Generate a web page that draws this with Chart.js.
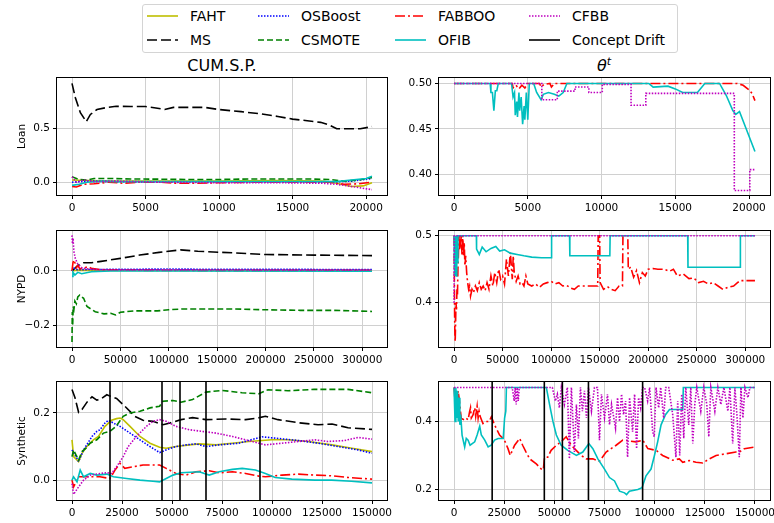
<!DOCTYPE html>
<html>
<head>
<meta charset="utf-8">
<script src="https://cdn.jsdelivr.net/npm/chart.js@4"></script>
<style>
body { margin: 0; width: 774px; height: 523px; overflow: hidden; background: #fff; position: relative; font-family: "DejaVu Sans", sans-serif; }
canvas { position: absolute; }
.title { position: absolute; font-size: 16px; line-height: 19px; color: #000; transform: translateX(-50%); white-space: nowrap; }
.title sup { font-size: 11px; line-height: 0; }
#legend { position: absolute; left: 142px; top: 4px; width: 536px; height: 49px; border: 1px solid #d4d4d4; border-radius: 3px; box-sizing: border-box; background: #fff; }
.item { position: absolute; height: 18px; display: flex; align-items: center; font-size: 14px; white-space: nowrap; color: #000; }
.item svg { margin-right: 12px; }
</style>
</head>
<body>
<div class="title" style="left:222px;top:56px">CUM.S.P.</div>
<div class="title" style="left:604px;top:56px"><i>θ</i><sup><i>t</i></sup></div>
<div id="legend"></div>

<script>
// ---- tick values ----
const loanXTicks = [0, 5000, 10000, 15000, 20000];
const nypdXTicks = [0, 50000, 100000, 150000, 200000, 250000, 300000];
const synXTicks = [0, 25000, 50000, 75000, 100000, 125000, 150000];

// concept drift positions (Synthetic)
const driftX = [19000, 45000, 54000, 67000, 94000];

// ---- Loan, CUM.S.P. ----
const loanCumFAHT = [[0,0.02],[1000,0.015],[3000,0.01],[6000,0.01],[10000,0.01],[14000,0.015],[17000,0.01],[18000,-0.01],[19000,-0.04],[19800,-0.035],[20400,-0.005]];
const loanCumMS = [[0,0.925],[230,0.79],[570,0.65],[970,0.566],[1250,0.634],[1700,0.68],[2400,0.70],[3000,0.71],[4000,0.708],[5000,0.708],[5700,0.695],[6300,0.68],[6900,0.70],[8000,0.70],[9000,0.70],[10000,0.68],[11500,0.66],[12800,0.64],[14000,0.615],[15000,0.59],[16000,0.575],[16900,0.56],[17500,0.535],[18000,0.50],[19000,0.50],[19600,0.50],[20400,0.52]];
const loanCumOSBoost = [[0,0.0],[500,0.005],[1500,0.01],[3000,0.005],[6000,0.0],[10000,0.0],[14000,0.002],[17500,0.0],[19000,0.01],[20400,0.035]];
const loanCumCSMOTE = [[0,0.05],[500,0.025],[1000,0.02],[1500,0.035],[2500,0.035],[4000,0.03],[6000,0.028],[8000,0.025],[10000,0.025],[12000,0.03],[14000,0.03],[16000,0.03],[17500,0.025],[18500,0.01],[19500,0.02],[20400,0.045]];
const loanCumFABBOO = [[0,-0.04],[300,-0.045],[800,-0.02],[1500,-0.015],[2500,0.0],[3500,-0.01],[4500,0.0],[6000,0.0],[7000,-0.01],[8500,-0.01],[10000,-0.005],[13000,0.0],[16000,0.0],[17500,0.0],[18500,-0.02],[19500,-0.015],[20400,0.0]];
const loanCumOFIB = [[0,-0.03],[500,-0.02],[1000,0.0],[2000,0.01],[3000,0.005],[5000,0.005],[8000,0.005],[12000,0.005],[16000,0.005],[18000,0.005],[19000,0.02],[20000,0.035],[20400,0.055]];
const loanCumCFBB = [[0,0.05],[300,0.0],[800,0.02],[1500,0.005],[3000,0.01],[6000,0.0],[10000,-0.005],[14000,-0.005],[17000,-0.01],[18000,-0.02],[19000,-0.04],[20400,-0.07]];

// ---- Loan, theta ----
const loanThFABBOO = [[0,0.5],[3950,0.5],[4000,0.495],[4200,0.498],[4400,0.494],[4600,0.498],[4800,0.495],[5000,0.5],[5800,0.5],[5900,0.496],[6100,0.499],[6500,0.5],[6600,0.496],[6800,0.5],[19200,0.5],[19600,0.498],[20000,0.493],[20200,0.489],[20400,0.481]];
const loanThOFIB = [[0,0.5],[2450,0.5],[2500,0.49],[2600,0.49],[2700,0.47],[2800,0.492],[2900,0.492],[3000,0.5],[3900,0.5],[4000,0.485],[4100,0.49],[4150,0.465],[4250,0.48],[4300,0.463],[4400,0.49],[4450,0.47],[4550,0.485],[4650,0.455],[4750,0.475],[4800,0.46],[4900,0.49],[5000,0.46],[5100,0.5],[5400,0.5],[5600,0.49],[5900,0.482],[6050,0.488],[6400,0.49],[6800,0.488],[7100,0.486],[7400,0.49],[7650,0.5],[13200,0.5],[13500,0.496],[14500,0.497],[15000,0.494],[15500,0.49],[16500,0.49],[17000,0.5],[18000,0.5],[18450,0.487],[18900,0.47],[19100,0.466],[19350,0.469],[20400,0.425]];
const loanThCFBB = [[0,0.5],[5950,0.5],[5950,0.482],[7000,0.482],[7000,0.4915],[8200,0.4915],[8200,0.496],[9140,0.496],[9140,0.49],[10050,0.49],[10050,0.499],[12000,0.499],[12000,0.476],[13000,0.476],[13000,0.489],[19000,0.489],[19000,0.382],[20050,0.382],[20050,0.405],[20400,0.405]];

// ---- NYPD, CUM.S.P. ----
const nypdCumFAHT = [[0,0.0],[5000,0.003],[30000,0.002],[310000,0.002]];
const nypdCumMS = [[0,0.0],[3000,0.01],[6000,0.02],[12000,0.03],[20000,0.03],[30000,0.035],[50000,0.046],[70000,0.058],[90000,0.068],[112000,0.077],[130000,0.072],[167000,0.066],[200000,0.06],[250000,0.058],[310000,0.056]];
const nypdCumOSBoost = [[0,0.0],[2000,0.01],[5000,0.005],[15000,0.005],[50000,0.006],[100000,0.007],[150000,0.006],[200000,0.006],[310000,0.005]];
const nypdCumCSMOTE = [[0,-0.26],[300,-0.15],[700,-0.2],[1200,-0.13],[2000,-0.14],[3000,-0.11],[4500,-0.12],[6000,-0.095],[8000,-0.088],[10000,-0.095],[12000,-0.1],[15500,-0.13],[20000,-0.14],[24000,-0.149],[33000,-0.157],[40000,-0.155],[45000,-0.161],[50000,-0.151],[64000,-0.146],[88000,-0.146],[100000,-0.142],[113600,-0.139],[132000,-0.139],[167000,-0.139],[201000,-0.142],[236000,-0.144],[270000,-0.144],[310000,-0.148]];
const nypdCumFABBOO = [[0,0.0],[1000,0.03],[2000,0.04],[3000,0.03],[4500,0.012],[6000,0.02],[8000,0.008],[12000,0.01],[16000,0.015],[20000,0.01],[28000,0.005],[40000,0.003],[80000,0.002],[150000,0.001],[310000,0.001]];
const nypdCumOFIB = [[0,-0.02],[1000,-0.005],[3000,-0.015],[6000,-0.005],[10000,-0.01],[20000,-0.003],[40000,0.0],[100000,0.0],[310000,-0.001]];
const nypdCumCFBB = [[0,0.13],[500,0.10],[1000,0.12],[2000,0.07],[3500,0.045],[6000,0.025],[10000,0.012],[15000,0.008],[25000,0.005],[50000,0.004],[100000,0.004],[200000,0.003],[310000,0.003]];

// ---- NYPD, theta ----
const nypdThFABBOO = [[0,0.5],[300,0.44],[600,0.38],[900,0.35],[1200,0.342],[1600,0.37],[2000,0.4],[2500,0.39],[3000,0.42],[3500,0.41],[4000,0.45],[4500,0.47],[5000,0.5],[5500,0.48],[6000,0.5],[6800,0.49],[7500,0.5],[8200,0.47],[9000,0.5],[9800,0.47],[10500,0.49],[11200,0.455],[12000,0.47],[13000,0.445],[14000,0.43],[15000,0.42],[16000,0.425],[17000,0.41],[18500,0.42],[20000,0.415],[22000,0.425],[24000,0.418],[26000,0.43],[28000,0.42],[30000,0.425],[32000,0.418],[34000,0.43],[36000,0.42],[38000,0.44],[40000,0.425],[42000,0.445],[44000,0.43],[46000,0.45],[48000,0.435],[50000,0.44],[52000,0.428],[54000,0.465],[56000,0.44],[58000,0.475],[60000,0.435],[61000,0.47],[62000,0.445],[64000,0.432],[66000,0.44],[68000,0.428],[70000,0.43],[72000,0.425],[74000,0.44],[76000,0.428],[80000,0.425],[84000,0.428],[88000,0.423],[92000,0.428],[96000,0.43],[100000,0.432],[104000,0.428],[108000,0.43],[112000,0.425],[116000,0.426],[120000,0.422],[124000,0.42],[128000,0.425],[135000,0.425],[148000,0.425],[148500,0.5],[150000,0.5],[150500,0.43],[154000,0.42],[158000,0.424],[162000,0.42],[166000,0.418],[170000,0.425],[173500,0.425],[174000,0.5],[179000,0.5],[179500,0.45],[182000,0.453],[185000,0.438],[188000,0.448],[191000,0.43],[194000,0.445],[197000,0.44],[200000,0.45],[205000,0.451],[210000,0.45],[216000,0.45],[222000,0.447],[226000,0.45],[230000,0.44],[236000,0.443],[242000,0.436],[247000,0.437],[252000,0.43],[257000,0.432],[262000,0.428],[267000,0.43],[272000,0.425],[277000,0.42],[282000,0.423],[288000,0.425],[292000,0.43],[295000,0.433],[310000,0.433]];
const nypdThOFIB = [[0,0.5],[500,0.44],[800,0.5],[1200,0.45],[1600,0.5],[2200,0.44],[2800,0.5],[3500,0.46],[4000,0.5],[23000,0.5],[23200,0.48],[26000,0.472],[29000,0.483],[33000,0.476],[38000,0.481],[43000,0.484],[47000,0.477],[52000,0.479],[58000,0.474],[65000,0.472],[72000,0.47],[80000,0.468],[90000,0.467],[100000,0.467],[100500,0.5],[119000,0.5],[119300,0.47],[160500,0.47],[160800,0.5],[240700,0.5],[241000,0.453],[294700,0.453],[295000,0.5],[310000,0.5]];
const nypdThCFBB = [[0,0.4],[300,0.5],[310000,0.5]];

// ---- Synthetic, CUM.S.P. ----
const synCumFAHT = [[0,0.12],[800,0.07],[3300,0.055],[5000,0.08],[7400,0.1],[10700,0.12],[13200,0.13],[16500,0.16],[19800,0.178],[22300,0.183],[24000,0.185],[25600,0.18],[29000,0.16],[34000,0.13],[39000,0.11],[43800,0.098],[47100,0.095],[52000,0.1],[58700,0.105],[63600,0.108],[72000,0.105],[80000,0.11],[88400,0.115],[100000,0.12],[108000,0.12],[118000,0.115],[130000,0.105],[140000,0.095],[150000,0.085]];
const synCumMS = [[0,0.27],[1500,0.245],[3300,0.202],[5000,0.21],[7500,0.232],[10000,0.248],[12400,0.238],[14500,0.242],[17400,0.254],[19000,0.25],[22300,0.243],[26400,0.22],[31400,0.19],[35500,0.178],[40500,0.175],[45500,0.165],[49000,0.17],[54500,0.18],[60300,0.186],[67000,0.18],[77000,0.182],[86800,0.18],[93000,0.185],[96700,0.19],[103000,0.18],[113000,0.171],[123000,0.165],[130000,0.167],[138000,0.156],[150000,0.151]];
const synCumOSBoost = [[0,0.09],[2500,0.065],[3300,0.055],[5800,0.09],[10000,0.13],[12400,0.145],[14000,0.15],[16500,0.17],[18200,0.178],[20700,0.17],[24000,0.16],[29000,0.14],[34000,0.12],[39000,0.1],[43800,0.082],[47100,0.09],[52000,0.1],[57000,0.105],[62000,0.108],[67000,0.1],[73500,0.105],[83500,0.11],[95000,0.129],[101600,0.125],[113000,0.118],[123000,0.11],[133000,0.1],[143000,0.09],[150000,0.08]];
const synCumCSMOTE = [[0,0.07],[800,0.09],[2000,0.075],[3300,0.06],[5000,0.085],[7000,0.095],[9000,0.11],[12400,0.12],[15700,0.14],[19000,0.145],[22000,0.16],[25600,0.19],[29000,0.2],[34000,0.205],[39000,0.215],[43800,0.22],[45500,0.235],[50500,0.237],[54500,0.232],[60300,0.24],[67000,0.262],[75000,0.267],[85000,0.26],[93400,0.257],[98000,0.269],[108000,0.266],[121000,0.27],[138000,0.27],[150000,0.26]];
const synCumFABBOO = [[0,0.0],[800,-0.02],[3300,0.01],[9100,0.01],[14000,0.01],[19000,0.005],[21500,0.03],[24000,0.05],[26400,0.035],[30600,0.04],[35500,0.045],[43800,0.045],[47100,0.035],[52000,0.02],[57000,0.015],[62000,0.025],[68600,0.028],[73600,0.022],[80200,0.025],[86800,0.02],[93400,0.012],[96700,0.01],[105000,0.015],[113200,0.018],[121500,0.015],[129800,0.013],[138000,0.008],[150000,0.003]];
const synCumOFIB = [[0,0.0],[800,0.01],[2500,-0.005],[4100,0.03],[5800,0.01],[9100,0.02],[12400,0.015],[17400,0.018],[20700,0.01],[27300,0.005],[34000,0.0],[40500,-0.003],[43800,-0.005],[47100,0.005],[50500,0.015],[54500,0.022],[63600,0.025],[68600,0.015],[73600,0.025],[80200,0.032],[85100,0.035],[91700,0.03],[96700,0.02],[101600,0.008],[109900,0.003],[121500,0.0],[129800,0.0],[139700,-0.003],[150000,-0.008]];
const synCumCFBB = [[0,-0.01],[800,-0.042],[3300,-0.02],[5800,0.0],[9100,0.015],[14000,0.02],[17400,0.022],[19800,0.02],[22300,0.04],[25600,0.07],[28100,0.1],[32200,0.13],[37200,0.16],[40500,0.175],[43800,0.18],[47100,0.175],[52000,0.16],[58700,0.15],[65300,0.145],[72000,0.14],[80200,0.13],[86800,0.12],[93400,0.11],[96700,0.105],[105000,0.11],[113200,0.115],[121500,0.12],[128000,0.115],[136300,0.118],[143000,0.127],[150000,0.122]];

// ---- Synthetic, theta ----
const synThFABBOO = [[0,0.5],[500,0.46],[1000,0.49],[1500,0.45],[2000,0.49],[2500,0.47],[3000,0.44],[3600,0.409],[5000,0.405],[6000,0.41],[7000,0.405],[7800,0.43],[8200,0.44],[8600,0.41],[9500,0.42],[10300,0.44],[10800,0.415],[11500,0.445],[12000,0.41],[12500,0.43],[13000,0.415],[14400,0.394],[16000,0.4],[17500,0.4],[18600,0.414],[20200,0.39],[22700,0.36],[24400,0.35],[25500,0.34],[26900,0.32],[28000,0.3],[30200,0.33],[32700,0.35],[34200,0.33],[35900,0.31],[37700,0.29],[41000,0.275],[43500,0.26],[44500,0.258],[45100,0.294],[46700,0.295],[48400,0.315],[51000,0.33],[53400,0.34],[55900,0.355],[58400,0.33],[60900,0.315],[63400,0.3],[65900,0.29],[69200,0.29],[72500,0.283],[75800,0.31],[78300,0.32],[80800,0.33],[84100,0.345],[90700,0.34],[94100,0.345],[96600,0.32],[100700,0.315],[104000,0.3],[109000,0.286],[112300,0.29],[114000,0.28],[117300,0.285],[120600,0.28],[124000,0.278],[127300,0.29],[130600,0.3],[135600,0.305],[140500,0.31],[142200,0.31],[144700,0.32],[150000,0.325]];
const synThOFIB = [[0,0.5],[500,0.4],[900,0.5],[1300,0.41],[1700,0.49],[2100,0.4],[2500,0.47],[2900,0.39],[3300,0.42],[4000,0.36],[5300,0.325],[6100,0.35],[7000,0.345],[8000,0.33],[10300,0.34],[11500,0.36],[12800,0.386],[13600,0.36],[15300,0.345],[17000,0.325],[18500,0.33],[20200,0.345],[22000,0.35],[24500,0.35],[25200,0.41],[25800,0.43],[26100,0.5],[46000,0.5],[47600,0.45],[49300,0.4],[51000,0.36],[53400,0.33],[56700,0.315],[61000,0.3],[64200,0.31],[67200,0.335],[69200,0.32],[71700,0.29],[75000,0.26],[77500,0.235],[80000,0.225],[82500,0.195],[85000,0.19],[86000,0.185],[87400,0.195],[91600,0.2],[93700,0.205],[95700,0.24],[98200,0.26],[99900,0.3],[101500,0.34],[103200,0.39],[105400,0.42],[107400,0.435],[114000,0.435],[114300,0.5],[150000,0.5]];
const synThCFBB = [[0,0.5],[29000,0.5],[30000,0.46],[30500,0.5],[31000,0.45],[31500,0.5],[32000,0.46],[32500,0.5],[49000,0.5],[50500,0.46],[51500,0.48],[52500,0.44],[53500,0.5],[55000,0.45],[56500,0.5],[57500,0.29],[58500,0.5],[60000,0.31],[61000,0.45],[62000,0.35],[63000,0.5],[64000,0.43],[65000,0.49],[66000,0.41],[67000,0.5],[68500,0.43],[70000,0.5],[71500,0.5],[72500,0.345],[73500,0.48],[75000,0.41],[76500,0.48],[77500,0.39],[78500,0.45],[80500,0.38],[81500,0.47],[82500,0.4],[83500,0.48],[84500,0.42],[85500,0.46],[86500,0.295],[87500,0.47],[89000,0.37],[90000,0.48],[91000,0.32],[92000,0.47],[93000,0.44],[94000,0.5],[95000,0.5],[96500,0.46],[97500,0.5],[99000,0.37],[99800,0.355],[100700,0.5],[102000,0.44],[103000,0.5],[104500,0.41],[105500,0.5],[107000,0.5],[109000,0.42],[110600,0.295],[111500,0.46],[112500,0.3],[113500,0.48],[114500,0.35],[115500,0.5],[117000,0.39],[118000,0.5],[119000,0.335],[120000,0.45],[121000,0.5],[123000,0.43],[124500,0.5],[126000,0.45],[127000,0.355],[128000,0.5],[130000,0.43],[131500,0.5],[133000,0.45],[134500,0.5],[136500,0.43],[137500,0.5],[138900,0.335],[140000,0.5],[141000,0.42],[142200,0.295],[143000,0.5],[144000,0.41],[145000,0.5],[146500,0.47],[147500,0.5],[150000,0.5]];

// ---- styles (matplotlib-like) ----
const styles = {
    FAHT:    { color: "#bfbf00", dash: [] },
    MS:      { color: "#000000", dash: [10, 4] },
    OSBoost: { color: "#0000ff", dash: [1.5, 1.5] },
    CSMOTE:  { color: "#008000", dash: [6, 3] },
    FABBOO:  { color: "#ff0000", dash: [10, 3, 2, 3] },
    OFIB:    { color: "#00bfbf", dash: [] },
    CFBB:    { color: "#bf00bf", dash: [1.5, 1.5] },
    "Concept Drift": { color: "#000000", dash: [] }
};

const cols = [[57, 387], [439, 770]];
const rows = [[78, 195], [231, 347], [382, 500]];

const panels = [
    { col: 0, row: 0, xMin: -1020, xMax: 21420, yMin: -0.12, yMax: 0.975, xTicks: loanXTicks, yTicks: [0, 0.5], dec: 1, yTitle: "Loan",
      series: { FAHT: loanCumFAHT, MS: loanCumMS, OSBoost: loanCumOSBoost, CSMOTE: loanCumCSMOTE, FABBOO: loanCumFABBOO, OFIB: loanCumOFIB, CFBB: loanCumCFBB } },
    { col: 1, row: 0, xMin: -1020, xMax: 21420, yMin: 0.377, yMax: 0.506, xTicks: loanXTicks, yTicks: [0.40, 0.45, 0.50], dec: 2,
      series: { FABBOO: loanThFABBOO, OFIB: loanThOFIB, CFBB: loanThCFBB } },
    { col: 0, row: 1, xMin: -15500, xMax: 325500, yMin: -0.278, yMax: 0.146, xTicks: nypdXTicks, yTicks: [-0.2, 0.0], dec: 1, yTitle: "NYPD",
      series: { FAHT: nypdCumFAHT, MS: nypdCumMS, OSBoost: nypdCumOSBoost, CSMOTE: nypdCumCSMOTE, FABBOO: nypdCumFABBOO, OFIB: nypdCumOFIB, CFBB: nypdCumCFBB } },
    { col: 1, row: 1, xMin: -15500, xMax: 325500, yMin: 0.334, yMax: 0.507, xTicks: nypdXTicks, yTicks: [0.4, 0.5], dec: 1,
      series: { FABBOO: nypdThFABBOO, OFIB: nypdThOFIB, CFBB: nypdThCFBB } },
    { col: 0, row: 2, xMin: -7500, xMax: 157500, yMin: -0.059, yMax: 0.292, xTicks: synXTicks, yTicks: [0.0, 0.2], dec: 1, yTitle: "Synthetic", drift: true,
      series: { FAHT: synCumFAHT, MS: synCumMS, OSBoost: synCumOSBoost, CSMOTE: synCumCSMOTE, FABBOO: synCumFABBOO, OFIB: synCumOFIB, CFBB: synCumCFBB } },
    { col: 1, row: 2, xMin: -7500, xMax: 157500, yMin: 0.169, yMax: 0.516, xTicks: synXTicks, yTicks: [0.2, 0.4], dec: 1, drift: true,
      series: { FABBOO: synThFABBOO, OFIB: synThOFIB, CFBB: synThCFBB } }
];

const tickFont = { family: "'DejaVu Sans', sans-serif", size: 10.5 };

// black box round the plot area, like matplotlib spines
const frame = {
    id: "frame",
    afterDatasetsDraw(chart) {
        const { ctx, chartArea: a } = chart;
        ctx.save();
        ctx.strokeStyle = "#000";
        ctx.lineWidth = 1;
        ctx.setLineDash([]);
        ctx.strokeRect(a.left - 0.5, a.top - 0.5, a.right - a.left + 1, a.bottom - a.top + 1);
        ctx.restore();
    }
};

function pts(arr) {
    return arr.map(([x, y]) => ({ x, y }));
}

function driftPts(lo, hi) {
    return driftX.flatMap(x => [{ x, y: lo }, { x, y: hi }, { x, y: null }]);
}

function fmtNum(v, dec) {
    return v.toFixed(dec).replace("-", "\u2212");
}

function drawPanel(p) {
    const [x0, x1] = cols[p.col];
    const [y0, y1] = rows[p.row];
    const padL = p.col === 0 ? 12 : 0;
    const yW = 45, padT = 14, padR = 10, xH = 24;
    const left = x0 - yW - padL;
    const top = y0 - padT;
    const cv = document.createElement("canvas");
    cv.width = x1 + padR - left;
    cv.height = padT + (y1 - y0) + xH;
    cv.style.left = left + "px";
    cv.style.top = top + "px";
    document.body.appendChild(cv);

    const names = Object.keys(p.series);
    const datasets = names.map((n, i) => ({
        label: n,
        data: pts(p.series[n]),
        borderColor: styles[n].color,
        borderDash: styles[n].dash,
        borderWidth: 1.6,
        pointRadius: 0,
        fill: false,
        tension: 0,
        order: -i
    }));
    if (p.drift) {
        datasets.push({
            label: "Concept Drift",
            data: driftPts(p.yMin, p.yMax),
            borderColor: "#000",
            borderWidth: 1.6,
            pointRadius: 0,
            spanGaps: false,
            order: -names.length
        });
    }

    new Chart(cv.getContext("2d"), {
        type: "line",
        data: { datasets },
        options: {
            responsive: false,
            animation: false,
            devicePixelRatio: 1,
            layout: { padding: { left: padL, right: padR, top: padT, bottom: 0 } },
            plugins: { legend: { display: false }, tooltip: { enabled: false } },
            scales: {
                x: {
                    type: "linear",
                    min: p.xMin,
                    max: p.xMax,
                    afterBuildTicks: s => { s.ticks = p.xTicks.map(v => ({ value: v })); },
                    afterFit: s => { s.height = xH; },
                    ticks: { callback: v => String(v), font: tickFont, color: "#000", padding: 3, maxRotation: 0, autoSkip: false },
                    grid: { color: "#d0d0d0", lineWidth: 1, tickColor: "#000", tickLength: 4 },
                    border: { display: false }
                },
                y: {
                    type: "linear",
                    min: p.yMin,
                    max: p.yMax,
                    afterBuildTicks: s => { s.ticks = p.yTicks.map(v => ({ value: v })); },
                    afterFit: s => { s.width = yW; },
                    ticks: { callback: v => fmtNum(v, p.dec), font: tickFont, color: "#000", padding: 3, autoSkip: false },
                    grid: { color: "#d0d0d0", lineWidth: 1, tickColor: "#000", tickLength: 4 },
                    border: { display: false },
                    title: p.yTitle
                        ? { display: true, text: p.yTitle, font: { family: "'DejaVu Sans', sans-serif", size: 10.5 }, color: "#000", padding: { top: 4, bottom: 4 } }
                        : { display: false }
                }
            }
        },
        plugins: [frame]
    });
}

function buildLegend() {
    const order = ["FAHT", "OSBoost", "FABBOO", "CFBB", "MS", "CSMOTE", "OFIB", "Concept Drift"];
    const colX = [4, 115, 252, 386];
    const rowY = [2, 26];
    const box = document.getElementById("legend");
    order.forEach((name, i) => {
        const st = styles[name];
        const item = document.createElement("div");
        item.className = "item";
        item.style.left = colX[i % 4] + "px";
        item.style.top = rowY[Math.floor(i / 4)] + "px";
        const dash = st.dash.length ? ` stroke-dasharray="${st.dash.join(",")}"` : "";
        item.innerHTML = `<svg width="31" height="8"><line x1="0" y1="4" x2="31" y2="4" stroke="${st.color}" stroke-width="1.6"${dash}/></svg><span>${name}</span>`;
        box.appendChild(item);
    });
}

document.addEventListener("DOMContentLoaded", () => {
    buildLegend();
    panels.forEach(drawPanel);
});
</script>
</body>
</html>
